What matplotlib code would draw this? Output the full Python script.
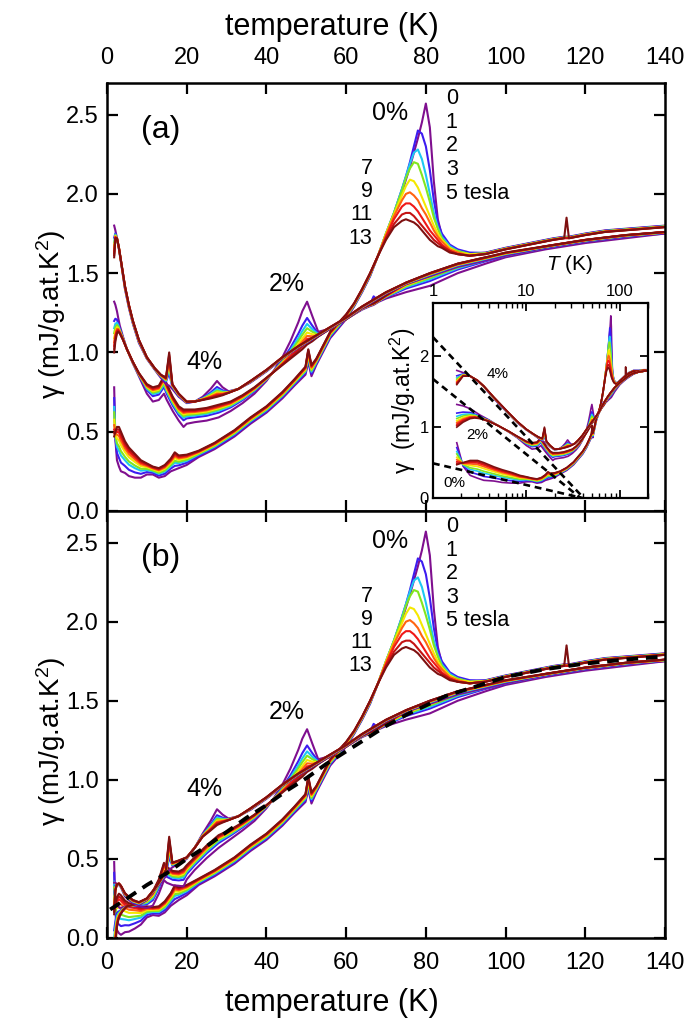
import numpy as np
import matplotlib
matplotlib.use("Agg")
import matplotlib.pyplot as plt
from matplotlib.ticker import MultipleLocator, LogLocator, NullFormatter, FuncFormatter

plt.rcParams['font.family'] = ['Liberation Sans', 'DejaVu Sans']
plt.rcParams['mathtext.fontset'] = 'custom'
plt.rcParams['mathtext.rm'] = 'Liberation Sans'
plt.rcParams['mathtext.it'] = 'Liberation Sans:italic'

# ---------------- data ----------------
fields = [0, 1, 2, 3, 5, 7, 9, 11, 13]
field_colors = ['#7f0f8f', '#3d1cf0', '#1ec8f2', '#82e61e', '#f5e800',
                '#ff6410', '#f01818', '#c41212', '#7e1010']
weights_0 = [0, 0.22, 0.40, 0.51, 0.66, 0.77, 0.86, 0.93, 1.0]
weights_24 = [0, 0.38, 0.52, 0.62, 0.72, 0.80, 0.87, 0.93, 1.0]

# 0 % sample, low-T part
T0_low = [1.8, 2.1, 2.5, 3.0, 3.5, 4.5, 5.5, 7, 8.5, 10,
          11.5, 13, 14.5, 16, 17, 18, 20, 23, 27, 32,
          36, 40, 44, 47, 49.8, 50.5, 51.3, 52.5, 56, 60,
          62, 64, 66]
g0_low_0T = [0.78, 0.45, 0.32, 0.28, 0.25, 0.24, 0.22, 0.21, 0.21, 0.23,
             0.23, 0.21, 0.22, 0.25, 0.26, 0.27, 0.29, 0.34, 0.39, 0.47,
             0.55, 0.62, 0.71, 0.79, 0.86, 0.94, 0.85, 0.92, 1.09, 1.21,
             1.29, 1.38, 1.48]
g0_low_13T = [0.47, 0.50, 0.53, 0.53, 0.50, 0.44, 0.40, 0.36, 0.32, 0.30,
              0.28, 0.27, 0.29, 0.33, 0.37, 0.35, 0.355, 0.38, 0.43, 0.51,
              0.59, 0.66, 0.75, 0.83, 0.91, 1.02, 0.92, 0.96, 1.13, 1.24,
              1.31, 1.40, 1.50]
# 0 % sample, peak region, one row per field
T_pk0 = [68, 70, 72, 74, 75, 76, 77, 78, 79, 80, 81, 82, 83, 84, 86, 88, 91]
pk0_0T = [1.61, 1.74, 1.87, 2.01, 2.09, 2.17, 2.26, 2.35, 2.45, 2.57, 2.42, 2.08, 1.84, 1.74, 1.67, 1.64, 1.62]
pk0_1T = [1.61, 1.75, 1.88, 2.03, 2.11, 2.20, 2.30, 2.40, 2.38, 2.30, 2.15, 1.96, 1.82, 1.75, 1.68, 1.65, 1.63]
pk0_2T = [1.61, 1.75, 1.88, 2.03, 2.11, 2.19, 2.26, 2.28, 2.22, 2.12, 2.00, 1.88, 1.79, 1.73, 1.67, 1.64, 1.62]
pk0_3T = [1.61, 1.75, 1.88, 2.02, 2.10, 2.16, 2.20, 2.19, 2.12, 2.04, 1.95, 1.85, 1.78, 1.72, 1.66, 1.64, 1.62]
pk0_5T = [1.61, 1.75, 1.87, 1.99, 2.05, 2.09, 2.08, 2.04, 1.98, 1.92, 1.86, 1.80, 1.75, 1.71, 1.66, 1.63, 1.62]
pk0_7T = [1.61, 1.74, 1.86, 1.96, 2.00, 2.01, 1.99, 1.96, 1.91, 1.87, 1.82, 1.77, 1.73, 1.70, 1.65, 1.63, 1.61]
pk0_9T = [1.61, 1.73, 1.84, 1.92, 1.94, 1.94, 1.92, 1.89, 1.85, 1.81, 1.77, 1.74, 1.71, 1.68, 1.64, 1.62, 1.61]
pk0_11T = [1.61, 1.72, 1.81, 1.87, 1.88, 1.88, 1.86, 1.83, 1.80, 1.77, 1.74, 1.71, 1.69, 1.67, 1.64, 1.62, 1.61]
pk0_13T = [1.61, 1.71, 1.79, 1.83, 1.84, 1.83, 1.82, 1.80, 1.77, 1.74, 1.71, 1.69, 1.67, 1.66, 1.63, 1.62, 1.61]
# 0 % sample, high-T part
T0_high = [95, 100, 104, 108, 112, 114.7, 115.3, 115.9, 120, 125, 130, 135, 140, 160, 180, 200]
g0_high_0T = [1.63, 1.66, 1.68, 1.70, 1.72, 1.73, 1.73, 1.73, 1.75, 1.77, 1.78, 1.79, 1.80, 1.80, 1.81, 1.81]
g0_high_13T = [1.62, 1.65, 1.67, 1.69, 1.71, 1.72, 1.72, 1.72, 1.74, 1.76, 1.77, 1.78, 1.79, 1.79, 1.80, 1.80]
spike115_T = [114.7, 115.3, 115.9]
spike115_d = [0.0, 0.13, 0.0]

# 2 % sample
T2 = [1.8, 2.1, 2.5, 2.8, 3.2, 4.0, 5.0, 6.5, 8, 10,
      11.5, 13, 14.3, 15, 16.5, 18, 19.2, 20, 22, 25,
      28, 31, 34, 37, 40, 42, 44, 46, 48, 49,
      50.2, 51.5, 53, 56, 60, 64, 65.8, 66.9, 68.2, 70,
      75, 81, 88, 95, 100, 110, 120, 130, 140, 160, 180, 200]
g2_0T = [1.32, 1.30, 1.26, 1.22, 1.17, 1.10, 1.02, 0.93, 0.85, 0.74,
         0.69, 0.70, 0.74, 0.70, 0.63, 0.57, 0.53, 0.55, 0.56, 0.57,
         0.59, 0.63, 0.68, 0.74, 0.82, 0.89, 0.97, 1.07, 1.19, 1.26,
         1.32, 1.23, 1.13, 1.15, 1.21, 1.27, 1.29, 1.30, 1.32, 1.34,
         1.38, 1.42, 1.50, 1.56, 1.60, 1.65, 1.69, 1.72, 1.75, 1.78, 1.79, 1.80]
g2_13T = [1.00, 1.07, 1.12, 1.13, 1.12, 1.08, 1.02, 0.94, 0.87, 0.80,
          0.78, 0.79, 0.85, 0.80, 0.72, 0.66, 0.64, 0.64, 0.64, 0.65,
          0.67, 0.69, 0.73, 0.78, 0.84, 0.88, 0.92, 0.96, 1.00, 1.02,
          1.05, 1.07, 1.10, 1.15, 1.21, 1.28, 1.30, 1.31, 1.33, 1.36,
          1.44, 1.50, 1.56, 1.60, 1.62, 1.67, 1.71, 1.74, 1.76, 1.78, 1.79, 1.80]
bump67_T = [65.8, 66.9, 68.2]
bump67_d = [0.0, 0.05, 0.0]

# 4 % sample
T4 = [1.8, 2.1, 2.5, 3.0, 3.5, 4.5, 5.5, 6.5, 8, 10,
      12, 13.5, 14.8, 15.6, 16.4, 18, 20, 22, 24, 26,
      27.6, 29, 30.5, 33, 36, 40, 44, 48, 52, 56,
      60, 64, 70, 75, 81, 88, 95, 100, 110, 120,
      130, 140, 160, 180, 200]
g4_0T = [1.80, 1.77, 1.72, 1.65, 1.57, 1.40, 1.28, 1.18, 1.06, 0.96,
         0.89, 0.84, 0.80, 0.79, 0.77, 0.72, 0.68, 0.69, 0.72, 0.77,
         0.82, 0.78, 0.755, 0.77, 0.81, 0.88, 0.96, 1.03, 1.09, 1.15,
         1.21, 1.28, 1.37, 1.43, 1.48, 1.54, 1.58, 1.61, 1.66, 1.70,
         1.73, 1.75, 1.78, 1.79, 1.80]
g4_13T = [1.60, 1.72, 1.72, 1.66, 1.58, 1.42, 1.30, 1.20, 1.08, 0.97,
          0.90, 0.86, 0.84, 1.00, 0.80, 0.74, 0.69, 0.69, 0.70, 0.71,
          0.72, 0.73, 0.745, 0.77, 0.82, 0.89, 0.97, 1.04, 1.10, 1.16,
          1.22, 1.29, 1.38, 1.44, 1.50, 1.56, 1.60, 1.63, 1.67, 1.71,
          1.74, 1.76, 1.78, 1.79, 1.80]

# low-T upturn removed in panel (b)
sub_T = [1.8, 2.5, 3.5, 5, 7, 10, 13, 15.6, 18, 20, 24, 28, 32, 40]
sub_4 = [1.45, 1.38, 1.25, 1.08, 0.92, 0.72, 0.52, 0.36, 0.25, 0.18, 0.06, 0.0, 0.0, 0.0]
sub_2 = [1.15, 1.05, 0.95, 0.82, 0.70, 0.55, 0.42, 0.33, 0.24, 0.18, 0.08, 0.02, 0.0, 0.0]
sub_0 = [0.30, 0.27, 0.23, 0.19, 0.15, 0.10, 0.07, 0.05, 0.03, 0.02, 0.0, 0.0, 0.0, 0.0]

# dashed reference curve in panel (b)
dash_T = [0.8, 5, 10, 15, 20, 25, 30, 35, 40, 45, 50, 55, 60, 65, 70, 75, 80, 85, 90, 100, 110, 120, 130, 140]
dash_g = [0.18, 0.25, 0.335, 0.41, 0.50, 0.58, 0.67, 0.76, 0.84, 0.93, 1.01, 1.10, 1.18, 1.26, 1.34, 1.41,
          1.47, 1.53, 1.57, 1.65, 1.70, 1.735, 1.76, 1.78]

# dashed log-T lines in the inset
dash4_T = [1.0, 41.0]
dash4_g = [2.27, 0.0]
dash2_T = [1.0, 38.0]
dash2_g = [1.68, 0.0]
dash0_T = [1.0, 40.0]
dash0_g = [0.49, 0.0]

# ---------------- build curves ----------------
def blend(lo, hi, w):
    lo = np.asarray(lo, float)
    hi = np.asarray(hi, float)
    return lo + w * (hi - lo)

pk0_rows = [pk0_0T, pk0_1T, pk0_2T, pk0_3T, pk0_5T, pk0_7T, pk0_9T, pk0_11T, pk0_13T]

T0 = np.array(T0_low + T_pk0 + T0_high, float)
curves0 = []
for i, w in enumerate(weights_0):
    g = np.concatenate([blend(g0_low_0T, g0_low_13T, w), np.array(pk0_rows[i], float),
                        blend(g0_high_0T, g0_high_13T, w)])
    if fields[i] == 13:
        g = g + np.interp(T0, spike115_T, spike115_d, left=0, right=0)
    curves0.append(g)

T2a = np.array(T2, float)
curves2 = []
for i, w in enumerate(weights_24):
    g = blend(g2_0T, g2_13T, w)
    if fields[i] == 1:
        g = g + np.interp(T2a, bump67_T, bump67_d, left=0, right=0)
    curves2.append(g)

T4a = np.array(T4, float)
curves4 = [blend(g4_0T, g4_13T, w) for w in weights_24]

samples = [(T0, curves0, sub_0), (T2a, curves2, sub_2), (T4a, curves4, sub_4)]

# ---------------- figure ----------------
fig = plt.figure(figsize=(6.85, 10.25), dpi=100)
ax_a = fig.add_axes([0.1562, 0.5015, 0.8146, 0.4176])
ax_b = fig.add_axes([0.1562, 0.0849, 0.8146, 0.4166])
ax_in = fig.add_axes([0.632, 0.5141, 0.314, 0.1902])

for T, curves, sub in samples:
    s = np.interp(T, sub_T, sub)
    for i, g in enumerate(curves):
        ax_a.plot(T, g, color=field_colors[i], lw=1.5, solid_joinstyle='round')
        ax_b.plot(T, g - s, color=field_colors[i], lw=1.5, solid_joinstyle='round')
        ax_in.plot(T, g, color=field_colors[i], lw=1.2, solid_joinstyle='round')

ax_b.plot(dash_T, dash_g, color='black', lw=2.8, ls=(0, (3.0, 2.0)), zorder=5)
for dT, dg in [(dash4_T, dash4_g), (dash2_T, dash2_g), (dash0_T, dash0_g)]:
    ax_in.plot(dT, dg, color='black', lw=1.9, ls=(0, (2.6, 1.8)), zorder=5)

yfmt = FuncFormatter(lambda v, p: f"{v:.1f}")
for ax in (ax_a, ax_b):
    ax.set_xlim(0, 140)
    ax.set_ylim(0, 2.70)
    ax.xaxis.set_major_locator(MultipleLocator(20))
    ax.yaxis.set_major_locator(MultipleLocator(0.5))
    ax.yaxis.set_major_formatter(yfmt)
    ax.tick_params(direction='in', length=8, width=1.6, top=True, right=True, labelsize=17)
    ax.tick_params(axis='x', pad=10)
    ax.tick_params(axis='y', pad=6)
    for sp in ax.spines.values():
        sp.set_linewidth(1.8)
    ax.set_ylabel('γ (mJ/g.at.K$^2$)', fontsize=20)
    ax.yaxis.set_label_coords(-0.07, 0.46)

ax_a.tick_params(labeltop=True, labelbottom=False)
ax_a.xaxis.set_label_position('top')
ax_a.set_xlabel('temperature (K)', fontsize=22)
ax_a.xaxis.set_label_coords(0.403, 1.113)
ax_b.set_xlabel('temperature (K)', fontsize=22)
ax_b.xaxis.set_label_coords(0.403, -0.118)

# text annotations (both panels)
for ax, lab in ((ax_a, '(a)'), (ax_b, '(b)')):
    ax.text(13.5, 2.40, lab, fontsize=23, ha='center', va='center')
    ax.text(71.0, 2.51, '0%', fontsize=18, ha='center', va='center')
    ax.text(45.0, 1.43, '2%', fontsize=18, ha='center', va='center')
    ax.text(24.4, 0.94, '4%', fontsize=18, ha='center', va='center')
    for lbl, y in zip(['0', '1', '2', '3', '5 tesla'], [2.60, 2.45, 2.305, 2.155, 2.005]):
        ax.text(85.0, y, lbl, fontsize=15.5, ha='left', va='center')
    for lbl, y in zip(['7', '9', '11', '13'], [2.16, 2.015, 1.87, 1.72]):
        ax.text(66.6, y, lbl, fontsize=15.5, ha='right', va='center')

# inset styling
ax_in.set_xscale('log')
ax_in.set_xlim(1, 200)
ax_in.set_ylim(0, 2.75)
ax_in.set_xticks([1, 10, 100])
ax_in.set_xticklabels(['1', '10', '100'])
ax_in.xaxis.set_minor_locator(LogLocator(base=10, subs=np.arange(2, 10)))
ax_in.xaxis.set_minor_formatter(NullFormatter())
ax_in.set_yticks([0, 1, 2])
ax_in.set_yticklabels(['0', '1', '2'])
ax_in.tick_params(which='both', direction='in', top=True, right=True,
                  labeltop=True, labelbottom=False, labelsize=12, pad=3)
ax_in.tick_params(which='major', length=6, width=1.3)
ax_in.tick_params(which='minor', length=3.5, width=1.0)
for sp in ax_in.spines.values():
    sp.set_linewidth(1.6)
ax_in.xaxis.set_label_position('top')
ax_in.set_xlabel('$T$ (K)', fontsize=15)
ax_in.xaxis.set_label_coords(0.637, 1.17)
ax_in.set_ylabel('γ  (mJ/g.at.K$^2$)', fontsize=16.5, labelpad=1)
ax_in.text(4.88, 1.75, '4%', fontsize=11, ha='center', va='center')
ax_in.text(2.97, 0.89, '2%', fontsize=11, ha='center', va='center')
ax_in.text(1.68, 0.21, '0%', fontsize=11, ha='center', va='center')

fig.savefig('out.png', dpi=100)
